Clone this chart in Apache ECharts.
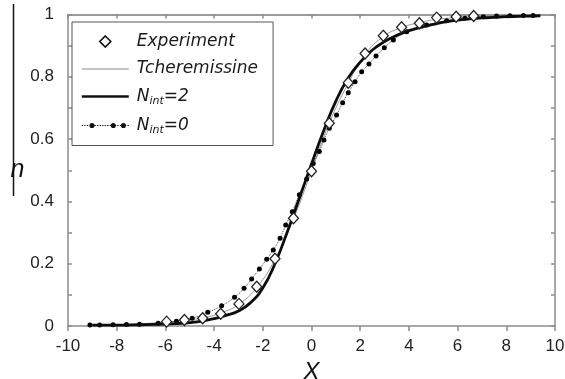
<!DOCTYPE html>
<html><head><meta charset="utf-8">
<script src="https://cdn.jsdelivr.net/npm/echarts@6/dist/echarts.min.js"></script>
<style>html,body{margin:0;padding:0;background:#fff}#c{width:565px;height:379px}</style>
</head><body><div id="c"></div>
<script>
// ---- data ----
const xTickValues = [-10, -8, -6, -4, -2, 0, 2, 4, 6, 8, 10];
const yTickLabels = ['0', '0.2', '0.4', '0.6', '0.8', '1'];

const expX = [-5.95, -5.22, -4.47, -3.73, -2.98, -2.25, -1.5, -0.74, 0.0, 0.73, 1.51, 2.2, 2.95, 3.7, 4.43, 5.14, 5.94, 6.66];
const expY = [0.014, 0.019, 0.025, 0.039, 0.071, 0.126, 0.216, 0.346, 0.497, 0.651, 0.781, 0.875, 0.932, 0.959, 0.972, 0.99, 0.993, 0.995];

const tchX = [-9, -8, -7, -5.95, -5.22, -4.47, -3.73, -2.98, -2.25, -1.5, -0.74, 0, 0.73, 1.51, 2.2, 2.95, 3.7, 4.43, 5.14, 5.94, 6.66, 7.5, 8.5, 9.7];
const tchY = [0.002, 0.004, 0.007, 0.013, 0.018, 0.026, 0.042, 0.07, 0.124, 0.214, 0.344, 0.497, 0.651, 0.779, 0.871, 0.929, 0.958, 0.974, 0.984, 0.99, 0.993, 0.995, 0.997, 0.998];

const n2X = [-9, -8, -7, -6, -5.5, -5, -4.5, -4, -3.5, -3, -2.5, -2, -1.5, -1, -0.5, 0, 0.5, 1, 1.5, 2, 2.5, 3, 3.5, 4, 4.5, 5, 5.5, 6, 6.5, 7, 7.5, 8, 8.5, 9, 9.4];
const n2Y = [0.003, 0.003, 0.004, 0.006, 0.008, 0.011, 0.016, 0.024, 0.034, 0.048, 0.075, 0.122, 0.2, 0.301, 0.41, 0.52, 0.627, 0.722, 0.795, 0.847, 0.886, 0.913, 0.933, 0.948, 0.959, 0.968, 0.976, 0.982, 0.986, 0.989, 0.991, 0.993, 0.994, 0.995, 0.996];

const n0X = [-9.1, -8.7, -8.15, -7.6, -7.06, -6.3, -5.55, -4.9, -4.26, -3.69, -3.16, -2.77, -2.46, -2.14, -1.84, -1.57, -1.29, -1.06, -0.79, -0.5, -0.2, 0.07, 0.32, 0.51, 0.73, 1.03, 1.28, 1.51, 1.79, 2.06, 2.36, 2.65, 2.99, 3.36, 3.91, 4.73, 5.55, 6.3, 7.06, 7.6, 8.15, 8.7, 9.1];
const n0Y = [0.003, 0.003, 0.004, 0.005, 0.006, 0.009, 0.015, 0.025, 0.044, 0.065, 0.092, 0.121, 0.151, 0.183, 0.214, 0.244, 0.282, 0.324, 0.367, 0.421, 0.472, 0.522, 0.56, 0.597, 0.635, 0.677, 0.717, 0.749, 0.784, 0.816, 0.841, 0.867, 0.893, 0.918, 0.945, 0.966, 0.98, 0.988, 0.993, 0.995, 0.996, 0.997, 0.997];

const seriesNames = ['Experiment', 'Tcheremissine', 'N_int=2', 'N_int=0'];
const xName = 'X';
const yName = 'n';

// ---- chart ----
const zip = (xs, ys) => xs.map((x, i) => [x, ys[i]]);
const axisColor = '#8c8c8c';
const tickFont = 'Liberation Sans, Arial, sans-serif';
const legFont = 'DejaVu Sans, sans-serif';

function dottedIcon() {
  let p = 'path://';
  for (let x = 0; x < 47; x += 2.5) p += 'M' + x + ',5.6H' + (x + 1.3) + 'V6.4H' + x + 'Z';
  [10, 31, 41].forEach(c => {
    p += 'M' + (c - 2.5) + ',6a2.5,2.5 0 1,1 5,0a2.5,2.5 0 1,1 -5,0Z';
  });
  p += 'M0,0.5L0,0.5M0,11.5L0,11.5';
  return p;
}

const chart = echarts.init(document.getElementById('c'));
chart.setOption({
  animation: false,
  backgroundColor: '#fff',
  grid: { left: 68, right: 10, top: 14.5, bottom: 53, containLabel: false, outerBoundsMode: 'none' },
  xAxis: [
    {
      type: 'value', min: -10, max: 10, interval: 2, position: 'bottom',
      axisLine: { show: true, onZero: false, lineStyle: { color: axisColor, width: 1.5 } },
      axisTick: { show: true, inside: false, length: 5, lineStyle: { color: axisColor, width: 1.5 } },
      axisLabel: { fontFamily: tickFont, fontSize: 17, color: '#222', margin: 12,
        formatter: v => (xTickValues.indexOf(v) >= 0 ? String(v) : '') },
      splitLine: { show: false },
      name: xName, nameLocation: 'middle', nameGap: 31,
      nameTextStyle: { fontFamily: tickFont, fontStyle: 'italic', fontSize: 24, color: '#111' }
    },
    {
      type: 'value', min: -10, max: 10, interval: 2, position: 'top',
      axisLine: { show: true, onZero: false, lineStyle: { color: '#7a7a7a', width: 1.5 } },
      axisTick: { show: true, inside: true, length: 4, lineStyle: { color: axisColor, width: 1.5 } },
      axisLabel: { show: false }, splitLine: { show: false }
    }
  ],
  yAxis: [
    {
      type: 'value', min: 0, max: 1, interval: 0.1, position: 'left',
      axisLine: { show: true, onZero: false, lineStyle: { color: axisColor, width: 1.5 } },
      axisTick: { show: true, inside: true, length: 4, lineStyle: { color: axisColor, width: 1.5 } },
      axisLabel: { fontFamily: tickFont, fontSize: 17, color: '#222', margin: 14,
        formatter: v => { const k = Math.round(v * 10); return k % 2 ? '' : yTickLabels[k / 2]; } },
      splitLine: { show: false },
      name: yName, nameLocation: 'middle', nameRotate: 0, nameGap: 42,
      nameTextStyle: { fontFamily: tickFont, fontStyle: 'italic', fontSize: 25, color: '#111' }
    },
    {
      type: 'value', min: 0, max: 1, interval: 0.1, position: 'right',
      axisLine: { show: true, onZero: false, lineStyle: { color: axisColor, width: 1.5 } },
      axisTick: { show: true, inside: true, length: 4, lineStyle: { color: axisColor, width: 1.5 } },
      axisLabel: { show: false }, splitLine: { show: false }
    }
  ],
  legend: {
    orient: 'vertical', left: 72, top: 22, padding: [11, 15, 10, 9], itemGap: 10.5,
    itemWidth: 47, itemHeight: 12, symbolKeepAspect: true,
    backgroundColor: '#fff', borderColor: '#555', borderWidth: 1, borderRadius: 0,
    selectedMode: false,
    data: [
      { name: seriesNames[0], icon: 'path://M0,6L0,6M47,6L47,6M23.5,0.5L29,6L23.5,11.5L18,6Z', itemStyle: { color: '#fff', borderColor: '#111', borderWidth: 1.6 } },
      { name: seriesNames[1], icon: 'path://M0,0H47V1H0Z', itemStyle: { color: '#8a8a8a', borderWidth: 0 } },
      { name: seriesNames[2], icon: 'path://M0,0H47V2.6H0Z', itemStyle: { color: '#111', borderWidth: 0 } },
      { name: seriesNames[3], icon: dottedIcon(), itemStyle: { color: '#111', borderWidth: 0 } }
    ],
    formatter: name => {
      const m = name.match(/^N_int(=.*)$/);
      if (m) return '{i|N}{s|int}{i|' + m[1] + '}';
      return '{i|' + name + '}';
    },
    textStyle: {
      padding: [0, 0, 0, 3],
      rich: {
        i: { fontFamily: legFont, fontStyle: 'italic', fontSize: 17, lineHeight: 20, color: '#1a1a1a' },
        s: { fontFamily: legFont, fontStyle: 'italic', fontSize: 11, lineHeight: 20, verticalAlign: 'bottom', color: '#1a1a1a' }
      }
    }
  },
  graphic: [
    { type: 'line', shape: { x1: 13.5, y1: 4, x2: 13.5, y2: 196 }, style: { stroke: '#111', lineWidth: 1.5 }, silent: true }
  ],
  series: [
    { name: seriesNames[1], type: 'line', data: zip(tchX, tchY), smooth: 0.5,
      symbol: 'none', lineStyle: { color: '#9a9a9a', width: 1 }, itemStyle: { color: '#9a9a9a' }, z: 2 },
    { name: seriesNames[3], type: 'line', data: zip(n0X, n0Y), smooth: 0.5,
      symbol: 'circle', symbolSize: 5, showSymbol: true,
      lineStyle: { color: '#444', width: 1, type: 'dotted' }, itemStyle: { color: '#000', borderWidth: 0 }, z: 3 },
    { name: seriesNames[2], type: 'line', data: zip(n2X, n2Y), smooth: 0.5,
      symbol: 'none', lineStyle: { color: '#0d0d0d', width: 2.8 }, itemStyle: { color: '#0d0d0d' }, z: 4 },
    { name: seriesNames[0], type: 'scatter', data: zip(expX, expY), symbol: 'diamond', symbolSize: [10, 11],
      itemStyle: { color: '#fff', borderColor: '#222', borderWidth: 1.3, opacity: 1 }, z: 5 }
  ]
});
</script>
</body></html>
